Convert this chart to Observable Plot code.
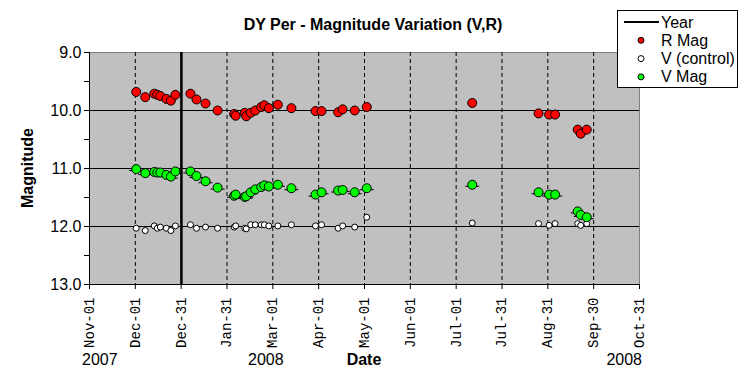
<!DOCTYPE html>
<html>
<head>
<meta charset="utf-8">
<script src="https://cdn.jsdelivr.net/npm/d3@7"></script>
<script src="https://cdn.jsdelivr.net/npm/@observablehq/plot@0.6"></script>
<style>
  html, body { margin: 0; padding: 0; background: #fff; }
  #chart svg { display: block; }
</style>
</head>
<body>
<div id="chart"></div>
<script>
const title = "DY Per - Magnitude Variation (V,R)";
const dates = ["2007-12-02","2007-12-08","2007-12-14","2007-12-16","2007-12-18","2007-12-22","2007-12-25","2007-12-28",
  "2008-01-07","2008-01-11","2008-01-17","2008-01-25","2008-02-05","2008-02-06","2008-02-12","2008-02-13",
  "2008-02-16","2008-02-19","2008-02-23","2008-02-25","2008-02-28","2008-03-05","2008-03-14","2008-03-30",
  "2008-04-03","2008-04-14","2008-04-17","2008-04-25","2008-05-03","2008-07-12","2008-08-25","2008-09-01",
  "2008-09-05","2008-09-20","2008-09-22","2008-09-26"];
const rMag = [9.68,9.77,9.71,9.73,9.75,9.80,9.83,9.73, 9.71,9.81,9.88,10.00,10.06,10.09,10.04,10.10,
  10.04,10.00,9.94,9.91,9.96,9.90,9.96,10.01, 10.01,10.03,9.98,10.00,9.94,9.87,10.05,10.07, 10.07,10.33,10.40,10.33];
const vControl = [12.03,12.07,11.99,12.03,12.01,12.03,12.07,11.99, 11.97,12.03,12.01,12.03,12.01,11.99,12.03,12.04,
  11.97,11.97,11.97,11.97,11.99,11.99,11.97,11.99, 11.97,12.03,11.99,12.01,11.84,11.94,11.95,11.98, 11.95,11.95,11.98,11.95];
const vMag = [11.01,11.08,11.06,11.07,11.07,11.11,11.14,11.05, 11.05,11.13,11.22,11.33,11.47,11.45,11.49,11.48,
  11.41,11.36,11.32,11.29,11.31,11.28,11.34,11.45, 11.41,11.38,11.37,11.41,11.34,11.28,11.41,11.45, 11.45,11.74,11.80,11.84];
const xTickLabels = ["Nov-01","Dec-01","Dec-31","Jan-31","Mar-01","Apr-01","May-01","Jun-01","Jul-01","Jul-31","Aug-31","Sep-30","Oct-31"];
const xStart = "2007-11-01", xEnd = "2008-10-31";
const yTicks = [9, 10, 11, 12, 13];
const yMinorTicks = [9.5, 10.5, 11.5, 12.5];
const yGrid = [10, 11, 12];
const yearStart = "2008-01-01";
const yearLabels = ["2007", "2008", "2008"];
const legendItems = [
  {label: "Year", kind: "line", color: "black"},
  {label: "R Mag", kind: "dot", color: "#ff0000"},
  {label: "V (control)", kind: "dot", color: "#ffffff"},
  {label: "V Mag", kind: "dot", color: "#00ff00"}
];

const rows = dates.map((d, i) => ({date: new Date(d), r: rMag[i], c: vControl[i], v: vMag[i]}));
const t0 = +new Date(xStart), t1 = +new Date(xEnd);
const xTicks = xTickLabels.map((_, k) => new Date(t0 + k * (t1 - t0) / 12));
const labelOf = new Map(xTicks.map((t, k) => [+t, xTickLabels[k]]));

const dash = {draw(ctx) { ctx.moveTo(-7, 1.5); ctx.lineTo(7, 1.5); }};
const SANS = "Liberation Sans, Arial, sans-serif";

const plot = Plot.plot({
  width: 747, height: 384,
  marginTop: 52, marginBottom: 100, marginLeft: 89, marginRight: 108,
  style: {fontFamily: SANS, background: "white", overflow: "visible"},
  x: {type: "utc", domain: [new Date(xStart), new Date(xEnd)]},
  y: {domain: [9, 13], reverse: true},
  marks: [
    Plot.frame({fill: "#c0c0c0", stroke: "#808080"}),
    Plot.ruleX(xTicks.slice(1, -1), {stroke: "black", strokeDasharray: "4,3"}),
    Plot.ruleY(yGrid, {stroke: "black"}),
    Plot.ruleX([new Date(yearStart)], {stroke: "black", strokeWidth: 2.5}),
    Plot.dot(rows, {x: "date", y: "v", symbol: dash, stroke: "black", strokeWidth: 1}),
    Plot.dot(rows, {x: "date", y: "c", r: 3, fill: "white", stroke: "black", strokeWidth: 1}),
    Plot.dot(rows, {x: "date", y: "v", r: 4.5, fill: "#00ff00", stroke: "black", strokeWidth: 1}),
    Plot.dot(rows, {x: "date", y: "r", r: 4.5, fill: "#ff0000", stroke: "black", strokeWidth: 1}),
    Plot.ruleX([new Date(xStart)], {stroke: "black"}),
    Plot.ruleY([13], {stroke: "black"}),
    Plot.axisY({ticks: yTicks, tickFormat: d => d.toFixed(1), tickSize: 5, tickPadding: 3,
      fontSize: 16, fontFamily: SANS, label: null, stroke: "black"}),
    Plot.axisY({ticks: yMinorTicks, tickFormat: () => "", tickSize: 5, label: null, stroke: "black"}),
    Plot.axisX({ticks: xTicks, tickFormat: d => labelOf.get(+d), tickRotate: -90, tickSize: 5, tickPadding: 8,
      fontSize: 14, fontFamily: "Liberation Mono, Courier New, monospace", label: null, stroke: "black"})
  ]
});

const svg = d3.select(plot);
svg.append("text").attr("x", 373).attr("y", 30).attr("text-anchor", "middle")
  .attr("font-family", SANS).attr("font-size", 16).attr("font-weight", "bold").attr("fill", "black").text(title);
svg.append("text").attr("transform", "translate(33,168) rotate(-90)").attr("text-anchor", "middle")
  .attr("font-family", SANS).attr("font-size", 16).attr("font-weight", "bold").attr("fill", "black").text("Magnitude");
svg.append("text").attr("x", 364).attr("y", 365).attr("text-anchor", "middle")
  .attr("font-family", SANS).attr("font-size", 16).attr("font-weight", "bold").attr("fill", "black").text("Date");
const yearPos = [{x: 82, a: "start"}, {x: 248, a: "start"}, {x: 642, a: "end"}];
yearLabels.forEach((t, i) => {
  svg.append("text").attr("x", yearPos[i].x).attr("y", 365).attr("text-anchor", yearPos[i].a)
    .attr("font-family", SANS).attr("font-size", 16).attr("fill", "black").text(t);
});

const lg = svg.append("g");
lg.append("rect").attr("x", 617.5).attr("y", 10.5).attr("width", 120).attr("height", 77)
  .attr("fill", "white").attr("stroke", "black");
legendItems.forEach((it, i) => {
  const cy = 22 + i * 18.3;
  if (it.kind === "line") {
    lg.append("line").attr("x1", 624).attr("x2", 659).attr("y1", cy).attr("y2", cy)
      .attr("stroke", it.color).attr("stroke-width", 2);
  } else {
    lg.append("circle").attr("cx", 641).attr("cy", cy).attr("r", 3)
      .attr("fill", it.color).attr("stroke", "black");
  }
  lg.append("text").attr("x", 661).attr("y", cy + 5.5).attr("text-anchor", "start")
    .attr("font-family", SANS).attr("font-size", 16).attr("fill", "black").text(it.label);
});

document.getElementById("chart").appendChild(plot);
</script>
</body>
</html>
